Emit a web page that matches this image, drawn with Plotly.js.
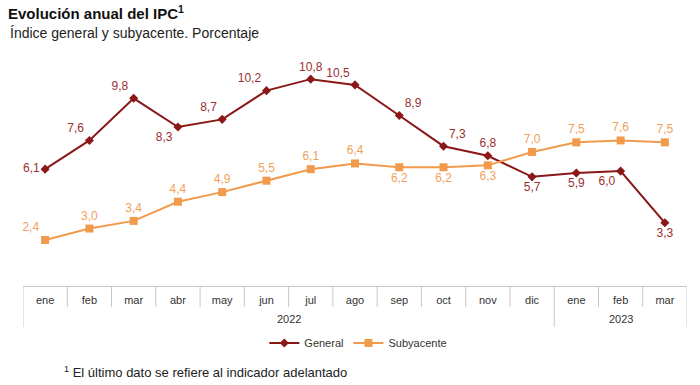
<!DOCTYPE html>
<html>
<head>
<meta charset="utf-8">
<script src="https://cdn.plot.ly/plotly-3.0.1.min.js"></script>
<style>html,body{margin:0;padding:0;background:#fff;}#chart{width:700px;height:385px;}</style>
</head>
<body>
<div id="chart"></div>
<script>
const years = ["2022","2022","2022","2022","2022","2022","2022","2022","2022","2022","2022","2022","2023","2023","2023"];
const months = ["ene","feb","mar","abr","may","jun","jul","ago","sep","oct","nov","dic","ene","feb","mar"];
const general = [6.1, 7.6, 9.8, 8.3, 8.7, 10.2, 10.8, 10.5, 8.9, 7.3, 6.8, 5.7, 5.9, 6.0, 3.3];
const subyacente = [2.4, 3.0, 3.4, 4.4, 4.9, 5.5, 6.1, 6.4, 6.2, 6.2, 6.3, 7.0, 7.5, 7.6, 7.5];
const generalPos = ["middle left","top left","top left","bottom left","top left","top left","top center","top left","top right","top right","top center","bottom center","bottom center","bottom left","bottom center"];
const subPos = ["top left","top center","top center","top center","top center","top center","top center","top center","bottom center","bottom center","bottom center","top center","top center","top center","top center"];

const fmt = v => v.toFixed(1).replace('.', ',');
const FONT = "Liberation Sans, Arial, sans-serif";
const RED = "#8b1717";
const ORANGE = "#f19a4b";
const GRID = "#c8c8c8";

// unique category keys (month + year), displayed with month names only
const keys = months.map((m, i) => m + " " + years[i]);

// plot-area geometry (pixels) used to place the table rows below the axis
const PLOT_H = 226;
const monthRow = 21 / PLOT_H, yearRow = 41 / PLOT_H;

const shapes = [];
const annotations = [];
// year groups
const groups = [];
years.forEach((y, i) => {
  if (!groups.length || groups[groups.length - 1].year !== y) groups.push({year: y, start: i, end: i});
  else groups[groups.length - 1].end = i;
});
const yearBounds = new Set();
groups.forEach(g => { yearBounds.add(g.start - 0.5); yearBounds.add(g.end + 0.5); });
for (let i = 0; i <= keys.length; i++) {
  const b = i - 0.5;
  const long = yearBounds.has(b);
  shapes.push({type: "line", xref: "x", yref: "paper", x0: b, x1: b, y0: 0, y1: -(long ? yearRow : monthRow),
               line: {color: GRID, width: 1}});
}
groups.forEach(g => {
  annotations.push({text: g.year, xref: "x", yref: "paper", x: (g.start + g.end) / 2, y: -(319 - 286) / PLOT_H,
                    yanchor: "middle", showarrow: false, font: {family: FONT, size: 11, color: "#333"}});
});

const traces = [
  {
    x: keys, y: general, name: "General", type: "scatter",
    mode: "lines+markers+text",
    line: {color: RED, width: 2},
    marker: {symbol: "diamond", size: 7, color: RED},
    text: general.map(fmt), textposition: generalPos,
    textfont: {family: FONT, size: 12, color: "#9a3030"},
    cliponaxis: false
  },
  {
    x: keys, y: subyacente, name: "Subyacente", type: "scatter",
    mode: "lines+markers+text",
    line: {color: ORANGE, width: 2},
    marker: {symbol: "square", size: 8, color: ORANGE},
    text: subyacente.map(fmt), textposition: subPos,
    textfont: {family: FONT, size: 12, color: "#f1a15a"},
    cliponaxis: false
  }
];

annotations.push(
  {text: "Índice general y subyacente. Porcentaje", xref: "paper", yref: "paper",
   x: -15/664, xanchor: "left", y: 1 + (60-33)/PLOT_H, yanchor: "middle", showarrow: false,
   font: {family: FONT, size: 14, color: "#222"}},
  {text: "<sup>1</sup> El último dato se refiere al indicador adelantado", xref: "paper", yref: "paper",
   x: (62-23)/664, xanchor: "left", y: -(372-286)/PLOT_H, yanchor: "middle", showarrow: false,
   font: {family: FONT, size: 13, color: "#222"}}
);

const layout = {
  width: 700, height: 385,
  margin: {l: 23, r: 13, t: 60, b: 99},
  paper_bgcolor: "#fff", plot_bgcolor: "#fff",
  font: {family: FONT, size: 11, color: "#333"},
  showlegend: true,
  legend: {orientation: "h", x: 0.505, xanchor: "center", xref: "paper",
           y: 1 - 343/385, yanchor: "middle", yref: "container",
           font: {family: FONT, size: 11, color: "#333"}},
  title: {
    text: "<b>Evolución anual del IPC<sup>1</sup></b>",
    x: 8/700, xanchor: "left", xref: "container",
    y: 1 - 14/385, yanchor: "middle", yref: "container",
    automargin: false,
    font: {family: FONT, size: 15, color: "#111"}
  },
  xaxis: {
    type: "category", automargin: false,
    categoryorder: "array", categoryarray: keys,
    tickmode: "array", tickvals: keys, ticktext: months,
    range: [-0.5, keys.length - 0.5],
    showline: true, linecolor: GRID, linewidth: 1,
    showgrid: false, zeroline: false, ticks: "",
    ticklabelstandoff: 4,
    tickfont: {family: FONT, size: 11, color: "#333"},
    fixedrange: true
  },
  yaxis: {
    range: [0, 11.8], visible: false, automargin: false,
    showgrid: false, zeroline: false, fixedrange: true
  },
  shapes: shapes,
  annotations: annotations
};

Plotly.newPlot("chart", traces, layout, {displayModeBar: false, staticPlot: true});
</script>
</body>
</html>
